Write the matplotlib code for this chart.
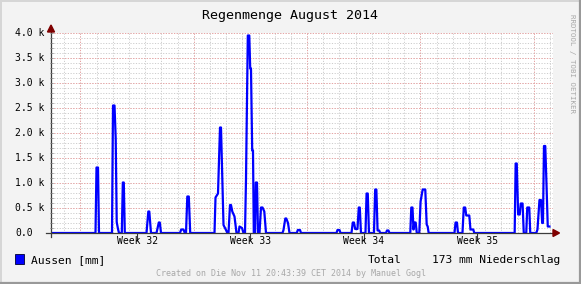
import numpy as np
import matplotlib.pyplot as plt
from matplotlib.patches import Polygon, Rectangle
from matplotlib.lines import Line2D
from matplotlib.transforms import blended_transform_factory

W, H = 581, 284

# time as fractional day of August 2014
days = [2.18, 4.929, 4.991, 5.084, 5.145, 5.948, 6.010, 6.103, 6.177, 6.239,
        6.319, 6.381, 6.554, 6.616, 6.677, 6.739, 8.080, 8.191, 8.252, 8.357,
        8.697, 8.839, 8.901, 8.975, 10.149, 10.223, 10.365, 10.445, 10.520,
        10.600, 10.692, 10.779, 12.280, 12.342, 12.496, 12.620, 12.681, 12.743,
        12.836, 12.990, 13.071, 13.145, 13.238, 13.299, 13.379, 13.515, 13.639,
        13.763, 13.824, 13.979, 14.071, 14.164, 14.226, 14.337, 14.429, 14.485,
        14.534, 14.608, 14.658, 14.707, 14.782, 14.831, 14.905, 14.967, 15.060,
        15.152, 15.245, 15.356, 15.461, 16.480, 16.542, 16.653, 16.715, 16.820,
        16.912, 17.363, 17.425, 17.561, 17.623, 19.815, 19.877, 20.001, 20.063,
        20.742, 20.822, 20.896, 20.970, 21.112, 21.192, 21.254, 21.328, 21.606,
        21.674, 21.748, 21.822, 22.131, 22.205, 22.279, 22.353, 22.452, 22.514,
        22.872, 22.934, 23.027, 23.088, 24.374, 24.436, 24.510, 24.571, 24.633,
        24.707, 24.775, 24.929, 25.010, 25.139, 25.300, 25.387, 25.448, 25.510,
        27.104, 27.172, 27.258, 27.320, 27.598, 27.678, 27.765, 27.833, 28.018,
        28.092, 28.265, 28.327, 30.822, 30.883, 30.951, 31.037, 31.136, 31.198,
        31.310, 31.384, 31.538, 31.600, 31.723, 31.785, 32.157, 32.231, 32.354,
        32.447, 32.521, 32.570, 32.632, 32.712, 32.786, 32.866, 32.971]
rain = [0, 0, 1310, 1310, 0, 0, 2550, 2550, 1890, 220,
        80, 0, 0, 1010, 1010, 0, 0, 430, 430, 0,
        0, 210, 210, 0, 0, 70, 70, 0, 0,
        730, 730, 0, 0, 710, 790, 2110, 2110, 1310,
        160, 60, 0, 0, 560, 560, 430, 330, 0,
        0, 130, 100, 0, 0, 1080, 3950, 3950, 3290,
        3290, 1650, 1650, 0, 0, 1010, 1010, 0, 0,
        510, 510, 430, 0, 0, 60, 290, 290, 200,
        0, 0, 60, 60, 0, 0, 60, 60, 0,
        0, 210, 210, 80, 80, 510, 510, 0, 0,
        790, 790, 0, 0, 870, 870, 50, 50, 0,
        0, 50, 50, 0, 0, 510, 510, 70, 210,
        210, 0, 0, 630, 870, 870, 170, 130, 0,
        0, 210, 210, 0, 0, 510, 510, 350, 350,
        70, 70, 0, 0, 1390, 1390, 370, 370, 590,
        590, 0, 0, 510, 510, 0, 0, 70, 660,
        660, 200, 200, 1740, 1740, 1000, 130, 130]

x_range = (2.18, 33.19)
week_starts = [4, 11, 18, 25, 32]
week_mid = [7.5, 14.5, 21.5, 28.5]
week_labels = ['Week 32', 'Week 33', 'Week 34', 'Week 35']
day_lines = list(range(3, 34))
y_major = [0, 500, 1000, 1500, 2000, 2500, 3000, 3500, 4000]
y_labels = ['0.0', '0.5 k', '1.0 k', '1.5 k', '2.0 k', '2.5 k', '3.0 k', '3.5 k', '4.0 k']
y_minor = list(range(100, 4001, 100))

title = 'Regenmenge August 2014'
legend_label = 'Aussen [mm]'
total_label = 'Total'
total_value = '173 mm Niederschlag'
footer = 'Created on Die Nov 11 20:43:39 CET 2014 by Manuel Gogl'
watermark = 'RRDTOOL / TOBI OETIKER'

MONO = 'DejaVu Sans Mono'


def fx(px):
    return px / W


def fy(py):
    return 1 - py / H


fig = plt.figure(figsize=(W / 100, H / 100), dpi=100, facecolor='#F3F3F3')
ax = fig.add_axes([fx(51), fy(233), 502 / W, 200 / H])
ax.set_facecolor('white')
ax.set_xlim(*x_range)
ax.set_ylim(0, 4000)

# grid (rrdtool style: dotted grey minor, dotted red major)
dots = (0, (1.2, 1.6))
ax.hlines(y_minor, x_range[0], x_range[1], colors='#CDCDCD', linewidth=0.7,
          linestyles=dots, zorder=1)
ax.vlines(day_lines, 0, 4000, colors='#CDCDCD', linewidth=0.7,
          linestyles=dots, zorder=1)
ax.hlines(y_major[1:], x_range[0], x_range[1], colors='#EBA3A3', linewidth=0.7,
          linestyles=dots, zorder=1.5)
ax.vlines(week_starts, 0, 4000, colors='#EBA3A3', linewidth=0.7,
          linestyles=dots, zorder=1.5)

ax.plot(days, rain, color='#0000FF', linewidth=1.6, zorder=3,
        solid_joinstyle='round')

for s in ax.spines.values():
    s.set_visible(False)
ax.set_yticks([])
ax.set_xticks(week_mid)
ax.set_xticklabels([])
ax.tick_params(axis='x', direction='out', length=6, width=0.8, color='#333333')

# axes lines and arrows
fig.add_artist(Line2D([fx(46), fx(555)], [fy(233), fy(233)], color='#3C3C3C', lw=0.9, zorder=5))
fig.add_artist(Line2D([fx(51), fx(51)], [fy(237), fy(30)], color='#3C3C3C', lw=0.9, zorder=5))
fig.add_artist(Polygon([[fx(47.5), fy(32)], [fx(54.5), fy(32)], [fx(51), fy(25)]],
                       closed=True, color='#7F0000', zorder=6))
fig.add_artist(Polygon([[fx(553), fy(229.5)], [fx(553), fy(236.5)], [fx(559.5), fy(233)]],
                       closed=True, color='#7F0000', zorder=6))

# small ticks on the y axis
for v in y_minor:
    yy = fy(233 - v / 20)
    fig.add_artist(Line2D([fx(49.5), fx(52.5)], [yy, yy], color='#8A8A8A', lw=0.5, zorder=5))

# y labels (left aligned, like rrdtool)
ytr = blended_transform_factory(fig.transFigure, ax.transData)
for v, lab in zip(y_major, y_labels):
    ax.text(fx(15), v, lab, transform=ytr, ha='left', va='center',
            fontsize=7, family=MONO, clip_on=False)

for m, lab in zip(week_mid, week_labels):
    ax.text(m, fy(241.5), lab, transform=blended_transform_factory(ax.transData, fig.transFigure),
            ha='center', va='center', fontsize=7, family=MONO, clip_on=False)

fig.text(fx(290.5), fy(18.5), title, ha='center', va='baseline', fontsize=9.6, family=MONO)

# legend
fig.add_artist(Rectangle((fx(15), fy(264)), 9 / W, 10 / H, facecolor='#0000FF',
                         edgecolor='#000033', linewidth=0.6))
fig.text(fx(31), fy(262.7), legend_label, ha='left', va='baseline', fontsize=8.1, family=MONO)
fig.text(fx(368), fy(262.7), total_label, ha='left', va='baseline', fontsize=8.1, family=MONO)
fig.text(fx(431.7), fy(262.7), total_value, ha='left', va='baseline', fontsize=8.1, family=MONO)

fig.text(fx(290.5), fy(276.5), footer, ha='center', va='baseline', fontsize=6,
         family=MONO, color='#A8A8A8')
fig.text(fx(572), fy(64), watermark, ha='center', va='center', fontsize=5.3,
         family=MONO, color='#A8A8A8', rotation=270)

# 3d-ish frame
fig.add_artist(Line2D([0, 1], [fy(0.5), fy(0.5)], color='#D6D6D6', lw=1.4))
fig.add_artist(Line2D([fx(0.5), fx(0.5)], [0, 1], color='#D6D6D6', lw=1.4))
fig.add_artist(Line2D([0, 1], [fy(283), fy(283)], color='#999999', lw=1.6))
fig.add_artist(Line2D([fx(580), fx(580)], [0, 1], color='#999999', lw=1.6))

fig.savefig('out.png', dpi=100, facecolor=fig.get_facecolor())
